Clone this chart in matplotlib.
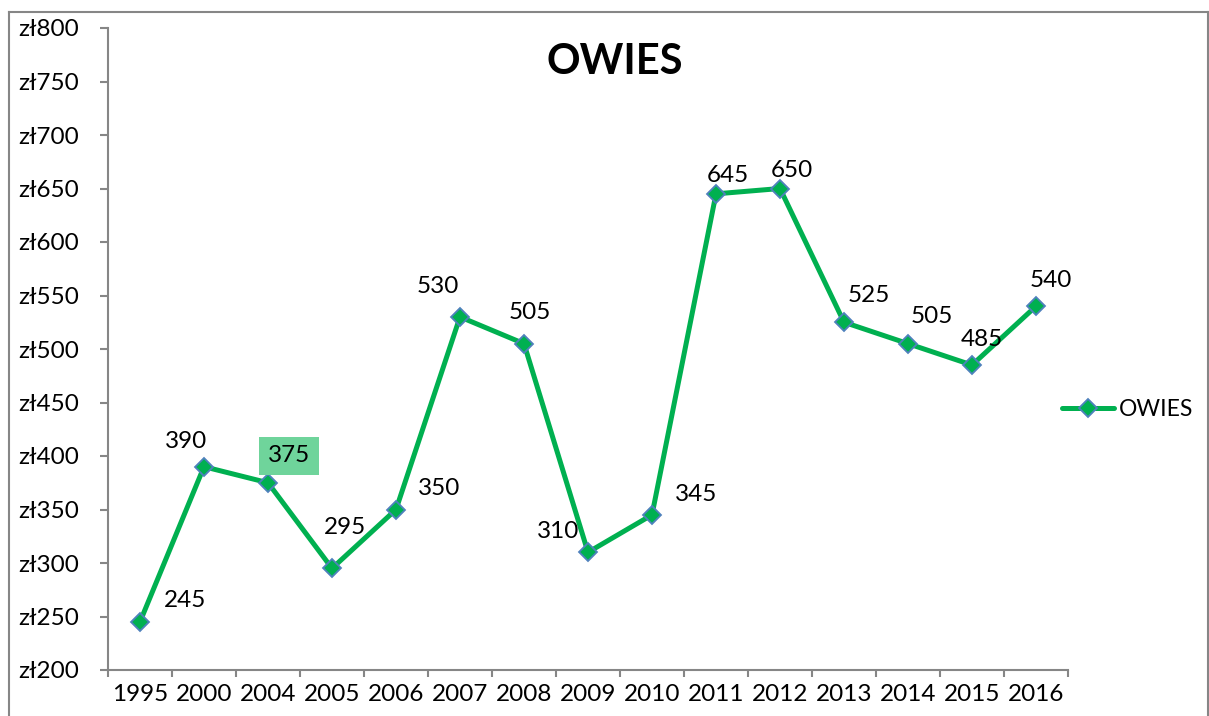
import numpy as np
import matplotlib.pyplot as plt
from matplotlib.lines import Line2D

years = ["1995", "2000", "2004", "2005", "2006", "2007", "2008", "2009",
         "2010", "2011", "2012", "2013", "2014", "2015", "2016"]
prices = [245, 390, 375, 295, 350, 530, 505, 310, 345, 645, 650, 525, 505, 485, 540]
# label offsets in pixels (dx, dy) relative to each point
label_offsets = [(45, 21), (-18, 25), (21, 27), (13, 41), (43, 21), (-22, 30), (6, 31),
                 (-30, 21), (44, 20), (12, 18), (12, 18), (25, 27), (24, 27), (10, 26), (15, 26)]
highlight = "2004"

GREEN = "#00B050"
EDGE = "#4F81BD"
GREY = "#868686"
FS = 17.5

plt.rcParams["font.family"] = ["Lato", "DejaVu Sans"]

W, H = 1209, 716
fig = plt.figure(figsize=(W / 100, H / 100), dpi=100)
ax = fig.add_axes([108 / W, 1 - 670 / H, (1068 - 108) / W, (670 - 28) / H])

# chart frame
for xs, ys in [((9 / W, 9 / W), (0, 1 - 12 / H)),
               ((9 / W, 1208 / W), (1 - 12 / H, 1 - 12 / H)),
               ((1208 / W, 1208 / W), (0, 1 - 12 / H))]:
    fig.add_artist(Line2D(xs, ys, color=GREY, lw=1.5, transform=fig.transFigure))

x = np.arange(len(years))
ax.plot(x, prices, color=GREEN, lw=3.6, marker="D", ms=9,
        markerfacecolor=GREEN, markeredgecolor=EDGE, markeredgewidth=1.3,
        label="OWIES", solid_capstyle="round", zorder=3)

for i, (v, off) in enumerate(zip(prices, label_offsets)):
    bbox = None
    if years[i] == highlight:
        bbox = dict(boxstyle="square,pad=0.35", fc="#6fd49b", ec="none")
    ax.annotate(str(v), (x[i], v), xytext=off, textcoords="offset pixels",
                ha="center", va="center", fontsize=FS, color="black", bbox=bbox)

ax.set_xlim(-0.5, len(years) - 0.5)
ax.set_ylim(200, 800)
ax.set_yticks(np.arange(200, 801, 50))
ax.set_yticklabels([f"zł{v}" for v in range(200, 801, 50)])
ax.set_xticks(x)
ax.set_xticklabels(years)
ax.set_xticks(np.arange(-0.5, len(years), 1), minor=True)

for s in ["top", "right"]:
    ax.spines[s].set_visible(False)
for s in ["left", "bottom"]:
    ax.spines[s].set_color(GREY)
    ax.spines[s].set_linewidth(1.5)

ax.tick_params(axis="y", length=6, width=1.5, color=GREY, pad=15, labelsize=FS)
ax.tick_params(axis="x", which="major", length=0, pad=10, labelsize=FS)
ax.tick_params(axis="x", which="minor", length=5, width=1.5, color=GREY)

fig.text(615 / W, 1 - 62 / H, "OWIES", ha="center", va="center",
         fontsize=30, fontweight="bold")

ax.legend(loc="center left", bbox_to_anchor=(1041 / W, 1 - 410 / H),
          bbox_transform=fig.transFigure, frameon=False, fontsize=16.5,
          handlelength=2.3, handletextpad=0.2)

fig.savefig("out.png", dpi=100, facecolor="white")
